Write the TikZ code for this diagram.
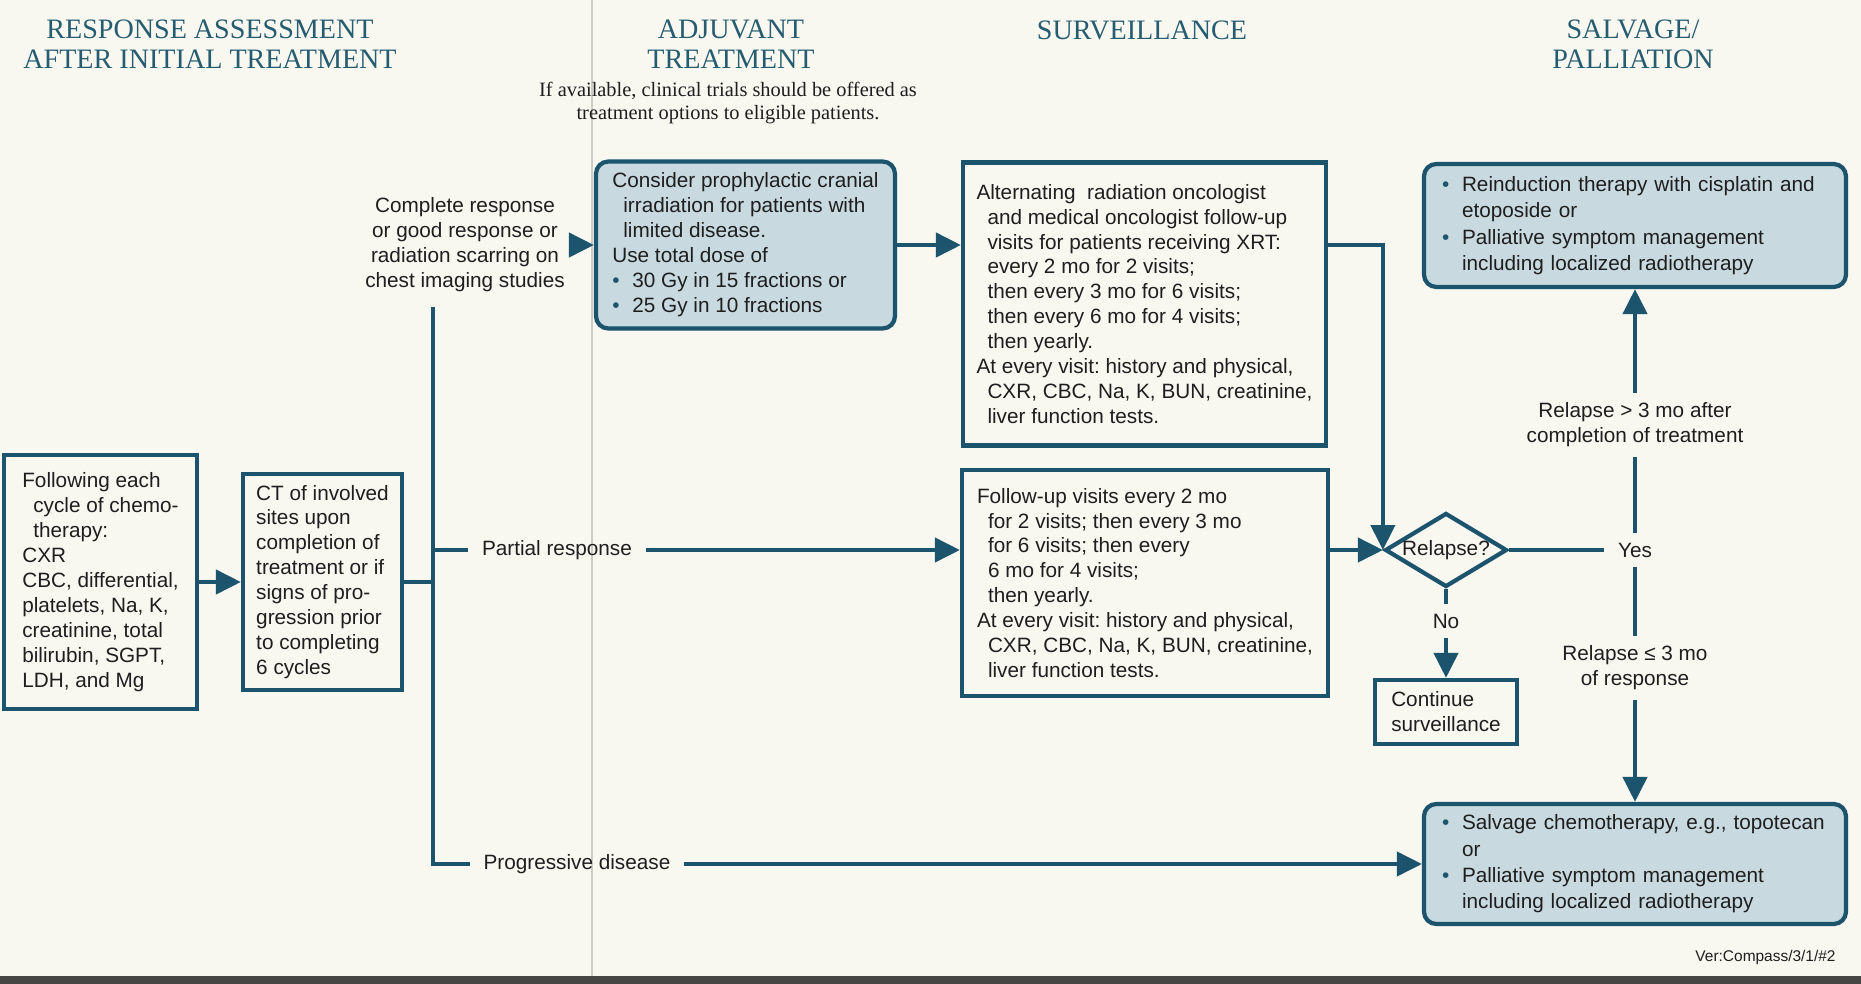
\documentclass[tikz,border=0pt]{standalone}
\usepackage{fontspec}
\setmainfont{Liberation Sans}
\newfontfamily\headfont{Liberation Serif}
\usetikzlibrary{arrows.meta,shapes.geometric}
\frenchspacing

\definecolor{linec}{RGB}{28,84,110}
\definecolor{headc}{RGB}{38,92,112}
\definecolor{shadec}{RGB}{200,218,224}
\definecolor{bgc}{RGB}{248,247,240}
\definecolor{foldc}{RGB}{205,205,198}
\definecolor{bandc}{RGB}{70,70,68}
\definecolor{txtc}{RGB}{30,30,30}

\newcommand{\ind}{\hspace*{1.1mm}}
\newcommand{\bul}{\makebox[2mm][l]{\textcolor{linec}{\textbullet}}}
\newcommand{\bhang}{\hspace*{2mm}}

\begin{document}
\begin{tikzpicture}[
	txt/.style={font=\fontsize{5.9}{7.1}\selectfont, text=txtc},
	box/.style={txt, draw=linec, line width=1.2pt, align=left, inner sep=0pt},
	shbox/.style={box, fill=shadec, rounded corners=3.5pt},
	lab/.style={txt, align=center, inner xsep=1.3mm, inner ysep=0.9mm},
	head/.style={font=\headfont\fontsize{8}{8.6}\selectfont, text=headc, align=center},
	note/.style={font=\headfont\fontsize{5.8}{6.6}\selectfont, text=txtc, align=center},
	dia/.style={txt, diamond, draw=linec, line width=1.2pt, aspect=1.65, inner sep=0pt, minimum width=1.22cm, minimum height=0.74cm},
	ln/.style={draw=linec, line width=1.2pt},
	arr/.style={ln, -{Triangle[length=2.5mm,width=2.4mm]}}
	]
	%Page
	\fill[bgc] (0,0) rectangle (18.61,-9.84);
	\useasboundingbox (0,0) rectangle (18.61,-9.84);
	\draw[foldc, line width=0.5pt] (5.92,0) -- (5.92,-9.76);
	\fill[bandc] (0,-9.76) rectangle (18.61,-9.84);
	
	%Column heads
	\node[head] (hresp) at (2.10,-0.44) {RESPONSE ASSESSMENT\\AFTER INITIAL TREATMENT};
	\node[head] (hadj) at (7.31,-0.44) {ADJUVANT\\TREATMENT};
	\node[note] (hnote) at (7.28,-1.03) {If available, clinical trials should be offered as\\treatment options to eligible patients.};
	\node[head] (hsurv) at (11.42,-0.30) {SURVEILLANCE};
	\node[head] (hsalv) at (16.33,-0.44) {SALVAGE/\\PALLIATION};
	
	%Response assessment
	\node[box, minimum width=1.93cm, minimum height=2.54cm] (fol) at (1.005,-5.82) {Following each\\\ind cycle of chemo-\\\ind therapy:\\CXR\\CBC, differential,\\platelets, Na, K,\\creatinine, total\\bilirubin, SGPT,\\LDH, and Mg};
	\node[box, minimum width=1.59cm, minimum height=2.16cm] (ct) at (3.225,-5.82) {CT of involved\\sites upon\\completion of\\treatment or if\\signs of pro-\\gression prior\\to completing\\6 cycles};
	\coordinate (ctop) at (4.33,-3.07);
	
	%Branch labels
	\node[lab, inner xsep=0.8mm] (crlab) at (4.65,-2.45) {Complete response\\or good response or\\radiation scarring on\\chest imaging studies};
	\node[lab] (prlab) at (5.57,-5.50) {Partial response};
	\node[lab] (pdlab) at (5.77,-8.64) {Progressive disease};
	
	%Adjuvant treatment
	\node[shbox, minimum width=2.99cm, minimum height=1.67cm] (pci) at (7.455,-2.45) {Consider prophylactic cranial\\\ind irradiation for patients with\\\ind limited disease.\\Use total dose of\\\bul 30 Gy in 15 fractions or\\\bul 25 Gy in 10 fractions};
	
	%Surveillance
	\node[box, minimum width=3.63cm, minimum height=2.83cm] (sur1) at (11.445,-3.04) {Alternating\ \ radiation oncologist\\\ind and medical oncologist follow-up\\\ind visits for patients receiving XRT:\\\ind every 2 mo for 2 visits;\\\ind then every 3 mo for 6 visits;\\\ind then every 6 mo for 4 visits;\\\ind then yearly.\\At every visit: history and physical,\\\ind CXR, CBC, Na, K, BUN, creatinine,\\\ind liver function tests.};
	\node[box, minimum width=3.66cm, minimum height=2.26cm] (sur2) at (11.45,-5.83) {Follow-up visits every 2 mo\\\ind for 2 visits; then every 3 mo\\\ind for 6 visits; then every\\\ind 6 mo for 4 visits;\\\ind then yearly.\\At every visit: history and physical,\\\ind CXR, CBC, Na, K, BUN, creatinine,\\\ind liver function tests.};
	
	%Relapse decision
	\node[dia] (rel) at (14.46,-5.50) {Relapse?};
	\node[lab] (nolab) at (14.46,-6.21) {No};
	\node[box, minimum width=1.42cm, minimum height=0.64cm] (cont) at (14.46,-7.12) {Continue\\surveillance};
	\node[lab] (yes) at (16.35,-5.50) {Yes};
	\node[lab] (late) at (16.35,-4.25) {Relapse > 3 mo after\\completion of treatment};
	\node[lab] (early) at (16.35,-6.68) {Relapse ≤ 3 mo\\of response};
	
	%Salvage / palliation
	\node[shbox, font=\fontsize{5.9}{7.5}\selectfont, minimum width=4.22cm, minimum height=1.23cm, text width=3.86cm] (pal1) at (16.35,-2.255) {\bul Reinduction therapy with cisplatin and\\\bhang etoposide or\\\bul Palliative symptom management\\\bhang including localized radiotherapy};
	\node[shbox, font=\fontsize{5.9}{7.5}\selectfont, minimum width=4.22cm, minimum height=1.20cm, text width=3.86cm] (sal2) at (16.35,-8.64) {\bul Salvage chemotherapy, e.g., topotecan\\\bhang or\\\bul Palliative symptom management\\\bhang including localized radiotherapy};
	
	\node[txt, font=\fontsize{4.4}{5}\selectfont, anchor=east] (ver) at (18.48,-9.57) {Ver:Compass/3/1/\#2};
	
	%Connectors
	\draw[arr] (fol) -- (ct);
	\draw[ln] (ct.east) -- (ct.east -| ctop);
	\draw[ln] (ctop) |- (pdlab);
	\draw[arr] (pdlab) -- (sal2);
	\draw[ln] (ctop |- prlab) -- (prlab);
	\draw[arr] (prlab) -- (sur2.west |- prlab);
	\draw[arr] (crlab) -- (pci);
	\draw[arr] (pci) -- (sur1.west |- pci);
	\draw[arr] (sur1.east |- pci) -| (rel.west);
	\draw[arr] (sur2.east |- rel) -- (rel.west);
	\draw[ln] (rel) -- (nolab);
	\draw[arr] (nolab) -- (cont);
	\draw[ln] (rel) -- (yes);
	\draw[ln] (yes) -- (late);
	\draw[arr] (late) -- (pal1);
	\draw[ln] (yes) -- (early);
	\draw[arr] (early) -- (sal2);
\end{tikzpicture}
\end{document}
